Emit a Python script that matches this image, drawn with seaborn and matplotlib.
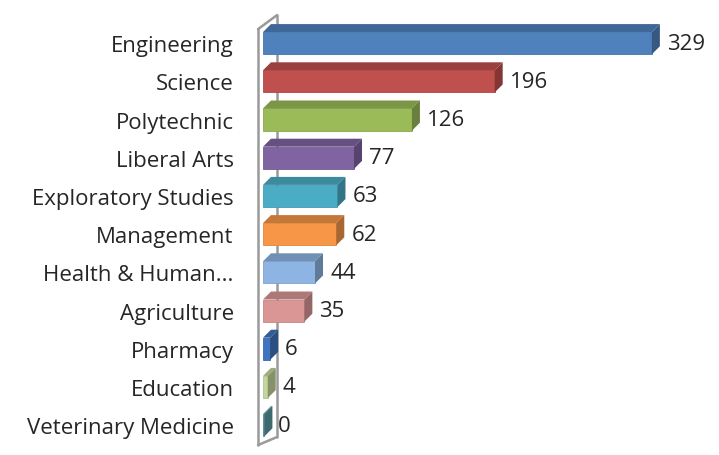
import matplotlib
matplotlib.use("Agg")
import matplotlib.pyplot as plt
import seaborn as sns
import pandas as pd
from matplotlib.patches import Polygon
from matplotlib.colors import to_rgb

colleges = ['Engineering', 'Science', 'Polytechnic', 'Liberal Arts', 'Exploratory Studies',
            'Management', 'Health & Human...', 'Agriculture', 'Pharmacy', 'Education',
            'Veterinary Medicine']
counts = [329, 196, 126, 77, 63, 62, 44, 35, 6, 4, 0]
colors = ['#4F81BD', '#C0504D', '#9BBB59', '#8064A2', '#4BACC6', '#F79646',
          '#8DB4E2', '#DA9694', '#3F74BE', '#C3D69B', '#5C9AA5']

df = pd.DataFrame({'college': colleges, 'count': counts})

sns.set_style('white')
plt.rcParams['font.family'] = ['Open Sans', 'DejaVu Sans']

fig = plt.figure(figsize=(7.19, 4.56), dpi=100)
ax = fig.add_axes([263 / 719, 0, 456 / 719, 1])

sns.barplot(data=df, x='count', y='college', hue='college', palette=colors,
            legend=False, width=0.58, ax=ax, saturation=1, zorder=3)

ax.set_xlim(0, 456 / 1.182)
ax.set_ylim(10.78, -1.156)

# depth of the 3d effect in data units
dx = 8 / 1.182
dy = 8 / 38.2

def shade(c, f):
    r, g, b = to_rgb(c)
    return (r * f, g * f, b * f)

for bar, c, v in zip(ax.patches, colors, counts):
    x0, y0 = bar.get_x(), bar.get_y()
    w, h = bar.get_width(), bar.get_height()
    w = max(w, 1.2)
    bar.set_width(w)
    bar.set_edgecolor(shade(c, 0.9))
    bar.set_linewidth(0.6)
    top = Polygon([(x0, y0), (x0 + w, y0), (x0 + w + dx, y0 - dy), (x0 + dx, y0 - dy)],
                  closed=True, facecolor=shade(c, 0.8), edgecolor='none', zorder=3)
    side = Polygon([(x0 + w, y0), (x0 + w + dx, y0 - dy), (x0 + w + dx, y0 + h - dy),
                    (x0 + w, y0 + h)],
                   closed=True, facecolor=shade(c, 0.68), edgecolor='none', zorder=3)
    ax.add_patch(top)
    ax.add_patch(side)
    ax.text(v + dx + 6, y0 + h / 2, str(v), va='center', ha='left',
            fontsize=16, color='#262626')

# left wall
wall_col = '#9A9A9A'
fx, bx = -4.2, 11.8
ax.plot([fx, fx], [-0.367, 10.52], color=wall_col, lw=1.8, zorder=4, clip_on=False)
ax.plot([bx, bx], [-0.733, 10.31], color=wall_col, lw=1.8, zorder=1, clip_on=False)
ax.plot([fx, bx], [-0.367, -0.733], color=wall_col, lw=1.8, zorder=4, clip_on=False)
ax.plot([fx, bx], [10.52, 10.31], color=wall_col, lw=1.8, zorder=4, clip_on=False)

ax.set_xlabel('')
ax.set_ylabel('')
ax.set_xticks([])
ax.tick_params(axis='y', length=0, pad=21, labelsize=16, labelcolor='#262626')
for s in ax.spines.values():
    s.set_visible(False)

fig.savefig('out.png', dpi=100)
